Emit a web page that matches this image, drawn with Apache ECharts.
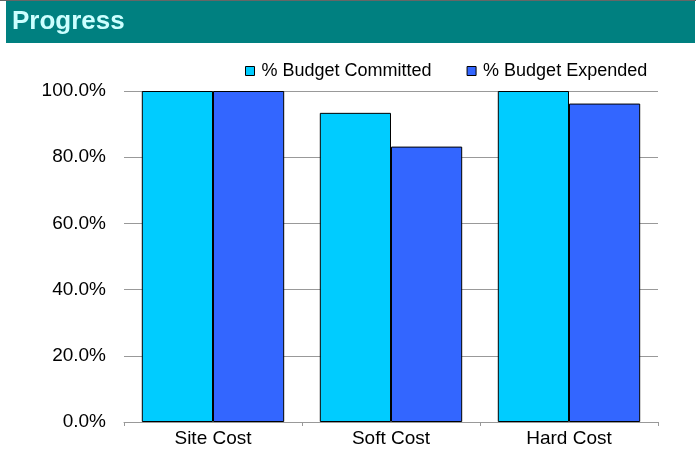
<!DOCTYPE html>
<html>
<head>
<meta charset="utf-8">
<script src="https://cdn.jsdelivr.net/npm/echarts@6/dist/echarts.min.js"></script>
<style>html,body{margin:0;padding:0;background:#fff;}#c{width:696px;height:451px;}</style>
</head>
<body>
<div id="c"></div>
<script>
const categories = ['Site Cost', 'Soft Cost', 'Hard Cost'];
const committed = [1.0, 0.934, 1.0];
const expended = [1.0, 0.832, 0.962];
const seriesNames = ['% Budget Committed', '% Budget Expended'];
const titleText = 'Progress';

const chart = echarts.init(document.getElementById('c'));
const font = 'Arial, "Liberation Sans", sans-serif';
chart.setOption({
  animation: false,
  backgroundColor: '#fff',
  graphic: [
    { type: 'rect', shape: { x: 0, y: 0, width: 696, height: 1 }, style: { fill: '#666' } },
    { type: 'rect', shape: { x: 6, y: 1, width: 689, height: 42 }, style: { fill: '#008080' } },
    { type: 'text', left: 12, top: 9, style: { text: titleText, fill: '#CCFFFF', font: 'bold 26px ' + font } }
  ],
  legend: {
    left: 240, top: 57,
    itemWidth: 9, itemHeight: 9, itemGap: 35,
    icon: 'rect',
    itemStyle: { borderColor: '#000', borderWidth: 1 },
    textStyle: { color: '#000', fontSize: 18, fontFamily: font, padding: [0, 0, 0, 2] },
    data: seriesNames
  },
  grid: { left: 124, right: 38, top: 91, bottom: 29, containLabel: false },
  xAxis: {
    type: 'category', data: categories,
    axisLine: { lineStyle: { color: '#999', width: 1 } },
    axisTick: { show: true, length: 4, lineStyle: { color: '#999' } },
    axisLabel: { color: '#000', fontSize: 19, fontFamily: font, margin: 7 }
  },
  yAxis: {
    type: 'value', min: 0, max: 1, interval: 0.2,
    axisLine: { show: false }, axisTick: { show: false },
    splitLine: { lineStyle: { color: '#999', width: 1 } },
    axisLabel: { color: '#000', fontSize: 19, fontFamily: font, margin: 18,
      formatter: v => (v * 100).toFixed(1) + '%' }
  },
  series: [
    { name: seriesNames[0], type: 'bar', data: committed, barGap: '0%', barCategoryGap: '20%',
      itemStyle: { color: '#00CCFF', borderColor: '#000', borderWidth: 1 } },
    { name: seriesNames[1], type: 'bar', data: expended,
      itemStyle: { color: '#3366FF', borderColor: '#000', borderWidth: 1 } }
  ]
});
</script>
</body>
</html>
